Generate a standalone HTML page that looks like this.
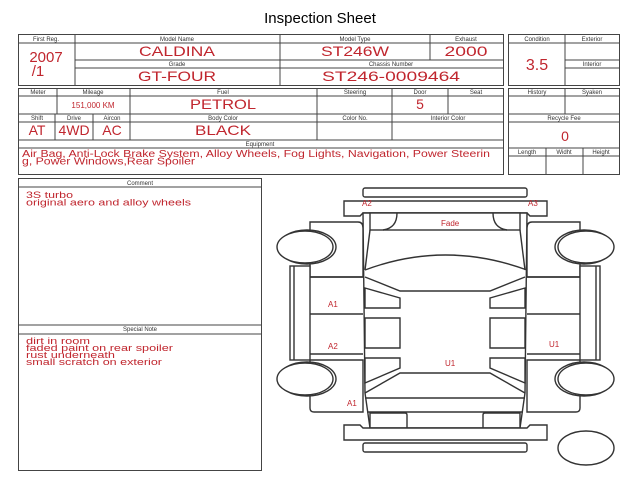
<!DOCTYPE html>
<html><head><meta charset="utf-8"><style>
body{margin:0;background:#fff;width:640px;height:480px;overflow:hidden}
svg{display:block}
.h{font:6px "Liberation Sans",sans-serif;fill:#333;text-anchor:middle}
.v{font:14px "Liberation Sans",sans-serif;fill:#c0262e;text-anchor:middle}
.r{font:9px "Liberation Sans",sans-serif;fill:#c0262e}
line,rect,path,ellipse,polygon,polyline{stroke:#444;fill:none;stroke-width:1}
.c path,.c rect,.c ellipse,.c polygon,.c polyline,.c line{stroke:#333;stroke-width:1.4;fill:#fff}
</style></head><body>
<svg width="640" height="480" viewBox="0 0 640 480">
<text x="320" y="23" style="font:15px 'Liberation Sans',sans-serif;text-anchor:middle;fill:#000">Inspection Sheet</text>
<rect x="18.5" y="34.5" width="485" height="51"/>
<line x1="75" y1="35" x2="75" y2="85"/><line x1="280" y1="35" x2="280" y2="85"/><line x1="430" y1="35" x2="430" y2="60"/>
<line x1="18" y1="43" x2="503" y2="43"/><line x1="75" y1="60" x2="503" y2="60"/><line x1="75" y1="68" x2="503" y2="68"/>
<text class="h" x="46" y="41">First Reg.</text><text class="h" x="177" y="41">Model Name</text><text class="h" x="355" y="41">Model Type</text><text class="h" x="466" y="41">Exhaust</text>
<text class="h" x="177" y="66">Grade</text><text class="h" x="391" y="66">Chassis Number</text>
<text class="v" x="46" y="62" style="font-size:15px">2007</text><text class="v" x="38" y="76" style="font-size:15px">/1</text>
<text class="v" x="177" y="56" textLength="76" lengthAdjust="spacingAndGlyphs">CALDINA</text><text class="v" x="355" y="56" textLength="68" lengthAdjust="spacingAndGlyphs">ST246W</text><text class="v" x="466" y="56" textLength="43" lengthAdjust="spacingAndGlyphs">2000</text>
<text class="v" x="177" y="81" textLength="78" lengthAdjust="spacingAndGlyphs">GT-FOUR</text><text class="v" x="391" y="81" textLength="138" lengthAdjust="spacingAndGlyphs">ST246-0009464</text>
<rect x="508.5" y="34.5" width="111" height="51"/><line x1="565" y1="35" x2="565" y2="85"/>
<line x1="508" y1="43" x2="620" y2="43"/><line x1="565" y1="60" x2="620" y2="60"/><line x1="565" y1="68" x2="620" y2="68"/>
<text class="h" x="537" y="41">Condition</text><text class="h" x="592" y="41">Exterior</text><text class="h" x="592" y="66">Interior</text>
<text class="v" x="537" y="70" style="font-size:16px">3.5</text>
<rect x="18.5" y="88.5" width="485" height="86"/>
<line x1="18" y1="96" x2="503" y2="96"/><line x1="18" y1="114" x2="503" y2="114"/><line x1="18" y1="122" x2="503" y2="122"/><line x1="18" y1="140" x2="503" y2="140"/><line x1="18" y1="148" x2="503" y2="148"/>
<line x1="57" y1="88" x2="57" y2="114"/><line x1="130" y1="88" x2="130" y2="140"/><line x1="317" y1="88" x2="317" y2="140"/><line x1="392" y1="88" x2="392" y2="140"/><line x1="448" y1="88" x2="448" y2="114"/>
<line x1="55" y1="114" x2="55" y2="140"/><line x1="93" y1="114" x2="93" y2="140"/>
<text class="h" x="38" y="94">Meter</text><text class="h" x="93" y="94">Mileage</text><text class="h" x="223" y="94">Fuel</text><text class="h" x="355" y="94">Steering</text><text class="h" x="420" y="94">Door</text><text class="h" x="476" y="94">Seat</text>
<text class="h" x="37" y="120">Shift</text><text class="h" x="74" y="120">Drive</text><text class="h" x="112" y="120">Aircon</text><text class="h" x="223" y="120">Body Color</text><text class="h" x="355" y="120">Color No.</text><text class="h" x="448" y="120">Interior Color</text><text class="h" x="260" y="146">Equipment</text>
<text class="v" x="93" y="108" style="font-size:8px">151,000 KM</text><text class="v" x="223" y="109" textLength="66" lengthAdjust="spacingAndGlyphs">PETROL</text><text class="v" x="420" y="109">5</text>
<text class="v" x="37" y="135">AT</text><text class="v" x="74" y="135">4WD</text><text class="v" x="112" y="135">AC</text><text class="v" x="223" y="135" textLength="56" lengthAdjust="spacingAndGlyphs">BLACK</text>
<text class="r" x="22" y="157" style="font-size:10px" textLength="468" lengthAdjust="spacingAndGlyphs">Air Bag, Anti-Lock Brake System, Alloy Wheels, Fog Lights, Navigation, Power Steerin</text>
<text class="r" x="22" y="164.5" style="font-size:10px" textLength="173" lengthAdjust="spacingAndGlyphs">g, Power Windows,Rear Spoiler</text>
<rect x="508.5" y="88.5" width="111" height="86"/><line x1="565" y1="88" x2="565" y2="114"/>
<line x1="508" y1="96" x2="620" y2="96"/><line x1="508" y1="114" x2="620" y2="114"/><line x1="508" y1="122" x2="620" y2="122"/><line x1="508" y1="148" x2="620" y2="148"/><line x1="508" y1="156" x2="620" y2="156"/>
<line x1="546" y1="148" x2="546" y2="174"/><line x1="583" y1="148" x2="583" y2="174"/>
<text class="h" x="537" y="94">History</text><text class="h" x="592" y="94">Syaken</text><text class="h" x="564" y="120">Recycle Fee</text>
<text class="h" x="527" y="154">Length</text><text class="h" x="564" y="154">Widht</text><text class="h" x="601" y="154">Height</text>
<text class="v" x="565" y="141">0</text>
<rect x="18.5" y="178.5" width="243" height="292"/>
<line x1="18" y1="187" x2="261" y2="187"/><line x1="18" y1="325" x2="261" y2="325"/><line x1="18" y1="334" x2="261" y2="334"/>
<text class="h" x="140" y="185">Comment</text><text class="h" x="140" y="331">Special Note</text>
<g style="font-size:9px">
<text class="r" x="26" y="198" textLength="47" lengthAdjust="spacingAndGlyphs">3S turbo</text><text class="r" x="26" y="205.5" textLength="165" lengthAdjust="spacingAndGlyphs">original aero and alloy wheels</text>
<text class="r" x="26" y="344" textLength="64" lengthAdjust="spacingAndGlyphs">dirt in room</text><text class="r" x="26" y="351" textLength="147" lengthAdjust="spacingAndGlyphs">faded paint on rear spoiler</text><text class="r" x="26" y="358" textLength="89" lengthAdjust="spacingAndGlyphs">rust underneath</text><text class="r" x="26" y="365" textLength="136" lengthAdjust="spacingAndGlyphs">small scratch on exterior</text>
</g>
<g class="c">
<rect x="363" y="188" width="164" height="9" rx="2"/>
<path d="M344,201 H547 V216 H530 L527,213 H363 L360,216 H344 Z"/>
<path d="M310,222 H358 Q363,222 363,228 V277 H310 Z" /><path d="M580,222 H532 Q527,222 527,228 V277 H580 Z"/>
<path d="M310,360 H363 V412 H314 Q310,412 310,408 Z"/><path d="M580,360 H527 V412 H576 Q580,412 580,408 Z"/>
<rect x="290" y="266" width="20" height="94"/><rect x="580" y="266" width="20" height="94"/>
<line x1="294" y1="266" x2="294" y2="360"/><line x1="596" y1="266" x2="596" y2="360"/>
<ellipse cx="307" cy="247" rx="29" ry="17"/><ellipse cx="305" cy="247" rx="28" ry="16"/>
<ellipse cx="307" cy="379" rx="29" ry="17"/><ellipse cx="305" cy="379" rx="28" ry="16"/>
<ellipse cx="584" cy="247" rx="29" ry="17"/><ellipse cx="586" cy="247" rx="28" ry="16"/>
<ellipse cx="584" cy="379" rx="29" ry="17"/><ellipse cx="586" cy="379" rx="28" ry="16"/>
<path d="M363,213 L365,393 L370,428 H520 L525,393 L527,213 Z"/>
<rect x="370" y="213" width="150" height="17"/>
<path d="M397,213 Q397,228 383,230" style="fill:none"/><path d="M493,213 Q493,228 507,230" style="fill:none"/>
<line x1="370" y1="230" x2="365" y2="270"/><line x1="520" y1="230" x2="525" y2="270"/>
<path d="M365,270 Q445,240 527,270" style="fill:none"/>
<line x1="310" y1="277" x2="363" y2="277"/><line x1="310" y1="314" x2="363" y2="314"/><line x1="310" y1="354" x2="363" y2="354"/>
<line x1="527" y1="277" x2="580" y2="277"/><line x1="527" y1="314" x2="580" y2="314"/><line x1="527" y1="354" x2="580" y2="354"/>
<polyline points="365,277 400,291 490,291 525,277" style="fill:none"/>
<polyline points="365,393 400,373 490,373 525,393" style="fill:none"/>
<polygon points="365,288 400,298 400,308 365,308"/><polygon points="365,318 400,318 400,348 365,348"/><polygon points="365,358 400,358 400,368 365,383"/>
<polygon points="525,288 490,298 490,308 525,308"/><polygon points="525,318 490,318 490,348 525,348"/><polygon points="525,358 490,358 490,368 525,383"/>
<line x1="365" y1="398" x2="525" y2="398"/><line x1="367" y1="412" x2="523" y2="412"/>
<path d="M370,413 H405 Q407,413 407,415 V428 H370 Z"/><path d="M520,413 H485 Q483,413 483,415 V428 H520 Z"/>
<path d="M344,425 H360 L363,428 H527 L530,425 H547 V440 H344 Z"/>
<rect x="363" y="443" width="164" height="9" rx="2"/>
<ellipse cx="586" cy="448" rx="28" ry="17"/>
</g>
<g style="font:8px 'Liberation Sans',sans-serif;fill:#c0262e">
<text x="362" y="206">A2</text><text x="528" y="206">A3</text><text x="441" y="226">Fade</text>
<text x="328" y="307">A1</text><text x="328" y="349">A2</text><text x="445" y="366">U1</text><text x="549" y="347">U1</text><text x="347" y="406">A1</text>
</g>
</svg>
</body></html>
